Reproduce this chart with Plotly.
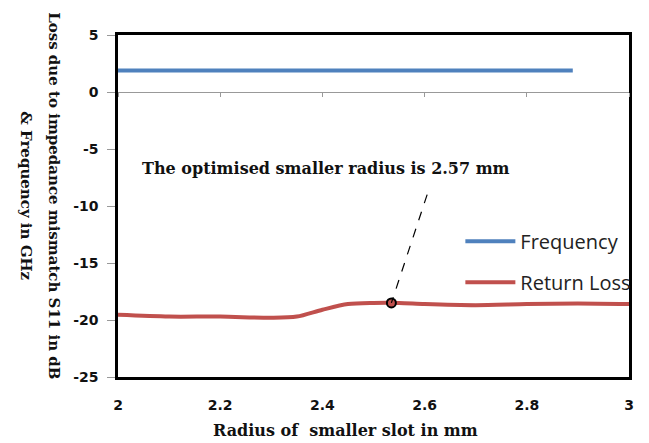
import plotly.graph_objects as go

# ---- data ----
freq_x = [2.0, 2.1, 2.2, 2.3, 2.4, 2.5, 2.6, 2.7, 2.8, 2.89]
freq_y = [1.88, 1.88, 1.88, 1.88, 1.88, 1.88, 1.88, 1.88, 1.88, 1.88]

rl_x = [2.0, 2.1, 2.2, 2.3, 2.35, 2.4, 2.45, 2.5, 2.55, 2.6, 2.7, 2.8, 2.9, 3.0]
rl_y = [-19.55, -19.7, -19.7, -19.8, -19.7, -19.1, -18.6, -18.5, -18.5, -18.6, -18.7, -18.6, -18.55, -18.6]

opt_x = [2.535]
opt_y = [-18.5]
note_text = "The optimised smaller radius is 2.57 mm"
note_anchor = (2.043, -6.67)
arrow_start = (2.605, -9.0)

x_ticks = [2, 2.2, 2.4, 2.6, 2.8, 3]
x_tick_labels = ["2", "2.2", "2.4", "2.6", "2.8", "3"]
y_ticks = [5, 0, -5, -10, -15, -20, -25]
y_tick_labels = ["5", "0", "-5", "-10", "-15", "-20", "-25"]

BLUE = "#4F81BD"
RED = "#C0504D"
SERIF = "DejaVu Serif"
SANS = "Open Sans"
TXT = "#111"

fig = go.Figure()
fig.add_trace(go.Scatter(x=freq_x, y=freq_y, mode="lines", name="Frequency",
                         line=dict(color=BLUE, width=4), legendgroup="a"))
fig.add_trace(go.Scatter(x=rl_x, y=rl_y, mode="lines", name="Return Loss",
                         line=dict(color=RED, width=4, shape="spline", smoothing=0.8),
                         legendgroup="b"))
fig.add_trace(go.Scatter(x=opt_x, y=opt_y, mode="markers", showlegend=False,
                         marker=dict(symbol="circle", size=9, color=RED,
                                     line=dict(color="black", width=2))))
# invisible trace to realise the zero-crossing axis
fig.add_trace(go.Scatter(x=[x_ticks[0]], y=[0], xaxis="x2", mode="markers",
                         marker=dict(opacity=0), showlegend=False, hoverinfo="skip"))

fig.add_shape(type="line", x0=arrow_start[0], y0=arrow_start[1], x1=opt_x[0], y1=opt_y[0],
              xref="x", yref="y", line=dict(color="black", width=1.2, dash="dash"))

fig.add_annotation(x=note_anchor[0], y=note_anchor[1], xref="x", yref="y",
                   text=note_text, showarrow=False, xanchor="left",
                   font=dict(family=SERIF, size=16, color=TXT, weight="bold"))

fig.add_annotation(x=-0.147, y=0.529, xref="paper", yref="paper", textangle=90,
                   text="Loss due to impedance mismatch S11 in dB", showarrow=False,
                   font=dict(family=SERIF, size=15, color=TXT, weight="bold"))
fig.add_annotation(x=-0.202, y=0.529, xref="paper", yref="paper", textangle=90,
                   text="&amp; Frequency in GHz", showarrow=False,
                   font=dict(family=SERIF, size=15, color=TXT, weight="bold"))

# x axis title (offset left of centre as in the original)
fig.add_annotation(x=0.446, y=-0.155, xref="paper", yref="paper", yanchor="middle",
                   text="Radius of  smaller slot in mm", showarrow=False,
                   font=dict(family=SERIF, size=16, color=TXT, weight="bold"))

fig.update_layout(
    width=641, height=435,
    margin=dict(l=110, r=20, t=27, b=66),
    paper_bgcolor="white", plot_bgcolor="white",
    showlegend=True,
    legend=dict(x=0.67, y=0.454, xanchor="left", yanchor="top",
                font=dict(family=SANS, size=20, color="#222"), itemwidth=50,
                bgcolor="rgba(0,0,0,0)", tracegroupgap=12, traceorder="grouped"),
    xaxis=dict(range=[2, 3], tickvals=x_ticks, ticktext=x_tick_labels,
               showgrid=False, zeroline=False, showline=True, linecolor="black",
               linewidth=2.5, mirror=True, ticks="", ticklabelstandoff=13,
               tickfont=dict(family="DejaVu Sans", size=14, color=TXT, weight="bold")),
    xaxis2=dict(range=[2, 3], overlaying="x", anchor="free", position=25 / 30,
                side="bottom", showline=True, linecolor="#999", linewidth=1.2,
                ticks="outside", ticklen=4, tickcolor="#999", tickvals=x_ticks,
                showticklabels=False, showgrid=False, zeroline=False),
    yaxis=dict(range=[-25, 5], tickvals=y_ticks, ticktext=y_tick_labels,
               showgrid=False, zeroline=False,
               showline=True, linecolor="black", linewidth=2.5, mirror=True,
               ticks="outside", ticklen=8, tickcolor="#999", tickwidth=1,
               ticklabelstandoff=6,
               tickfont=dict(family="DejaVu Sans", size=14, color=TXT, weight="bold")),
)

fig.write_html("out.html")
